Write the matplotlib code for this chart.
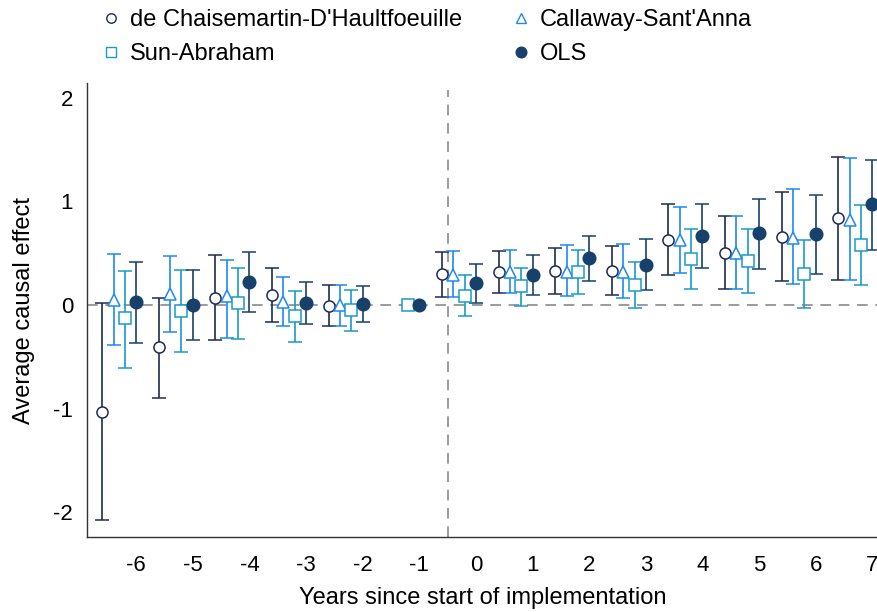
import matplotlib.pyplot as plt
import numpy as np

plt.rcParams['font.family'] = ['Liberation Sans', 'DejaVu Sans']
plt.rcParams['axes.unicode_minus'] = False

# Event-time (years since start of implementation)
years = np.array([-6, -5, -4, -3, -2, -1, 0, 1, 2, 3, 4, 5, 6, 7])

# de Chaisemartin-D'Haultfoeuille
dcdh_est = [-1.03, -0.41, 0.07, 0.10, -0.01, np.nan, 0.30, 0.32, 0.33, 0.33, 0.63, 0.50, 0.66, 0.84]
dcdh_lo = [-2.08, -0.90, -0.34, -0.16, -0.20, np.nan, 0.08, 0.12, 0.11, 0.10, 0.29, 0.15, 0.23, 0.24]
dcdh_hi = [0.02, 0.07, 0.48, 0.36, 0.19, np.nan, 0.51, 0.52, 0.55, 0.57, 0.97, 0.86, 1.09, 1.43]

# Callaway-Sant'Anna
cs_est = [0.05, 0.11, 0.09, 0.03, 0.00, np.nan, 0.29, 0.32, 0.32, 0.32, 0.63, 0.50, 0.65, 0.82]
cs_lo = [-0.39, -0.26, -0.32, -0.20, -0.20, np.nan, 0.08, 0.12, 0.09, 0.07, 0.31, 0.15, 0.20, 0.24]
cs_hi = [0.49, 0.47, 0.43, 0.27, 0.19, np.nan, 0.52, 0.53, 0.58, 0.59, 0.95, 0.86, 1.12, 1.42]

# Sun-Abraham
sa_est = [-0.13, -0.06, 0.02, -0.11, -0.05, 0.00, 0.09, 0.18, 0.32, 0.19, 0.44, 0.42, 0.30, 0.58]
sa_lo = [-0.61, -0.45, -0.33, -0.36, -0.25, 0.00, -0.11, -0.01, 0.11, -0.03, 0.15, 0.12, -0.03, 0.19]
sa_hi = [0.33, 0.34, 0.36, 0.13, 0.14, 0.00, 0.29, 0.36, 0.53, 0.41, 0.73, 0.73, 0.63, 0.96]

# OLS
ols_est = [0.03, 0.00, 0.22, 0.02, 0.01, 0.00, 0.21, 0.29, 0.45, 0.39, 0.67, 0.69, 0.68, 0.97]
ols_lo = [-0.37, -0.34, -0.07, -0.18, -0.16, 0.00, 0.02, 0.10, 0.23, 0.14, 0.36, 0.35, 0.30, 0.53]
ols_hi = [0.41, 0.34, 0.51, 0.22, 0.18, 0.00, 0.40, 0.48, 0.67, 0.64, 0.97, 1.02, 1.06, 1.40]

series = [
    ("de Chaisemartin-D'Haultfoeuille", dcdh_est, dcdh_lo, dcdh_hi, -0.6, 'o', '#1f2a4f', 'none', 8),
    ("Callaway-Sant'Anna", cs_est, cs_lo, cs_hi, -0.4, '^', '#1e88f0', 'none', 9),
    ("Sun-Abraham", sa_est, sa_lo, sa_hi, -0.2, 's', '#1a9ac8', 'none', 8),
    ("OLS", ols_est, ols_lo, ols_hi, 0.0, 'o', '#17416b', '#17416b', 9),
]

fig = plt.figure(figsize=(8.78, 6.12), dpi=100)
ax = fig.add_axes([0.099, 0.1225, 0.901, 0.7415])

ax.axhline(0, color='#808080', lw=1.1, ls=(0, (7, 5)), zorder=1)
ax.axvline(-0.5, ymax=0.985, color='#808080', lw=1.1, ls=(0, (7, 5)), zorder=1)

handles = []
for name, est, lo, hi, off, mk, col, fc, ms in series:
    est = np.array(est)
    lo = np.array(lo)
    hi = np.array(hi)
    err = np.vstack([est - lo, hi - est])
    ax.errorbar(years + off, est, yerr=err, fmt=mk, color=col, mfc=fc if fc != 'none' else 'white',
                mec=col, ms=ms, mew=1.1, elinewidth=1.2, capsize=5, capthick=1.2, zorder=3)
    lh, = ax.plot([], [], mk, color=col, mfc=fc, mec=col, ms=ms * 0.85, mew=1.0, ls='none', label=name)
    handles.append(lh)

ax.set_xlim(-6.87, 7.1)
ax.set_ylim(-2.24, 2.14)
ax.set_xticks(np.arange(-6, 8))
ax.set_xticklabels([str(v) for v in range(-6, 8)])
ax.set_yticks([-2, -1, 0, 1, 2])
ax.tick_params(axis='both', length=0, labelsize=16)
ax.tick_params(axis='x', pad=13)
ax.tick_params(axis='y', pad=10)

for s in ['top', 'right']:
    ax.spines[s].set_visible(False)
for s in ['left', 'bottom']:
    ax.spines[s].set_color('#333333')
    ax.spines[s].set_linewidth(1.0)

ax.set_xlabel('Years since start of implementation', fontsize=17, labelpad=8)
ax.set_ylabel('Average causal effect', fontsize=17, labelpad=13)

order = [handles[0], handles[2], handles[1], handles[3]]
fig.legend(handles=order, labels=[h.get_label() for h in order], ncol=2, frameon=False,
           loc='upper left', bbox_to_anchor=(0.089, 1.02), fontsize=17,
           handletextpad=0.3, columnspacing=2.0, labelspacing=0.5, handlelength=1.0)

fig.savefig('out.png', dpi=100)
